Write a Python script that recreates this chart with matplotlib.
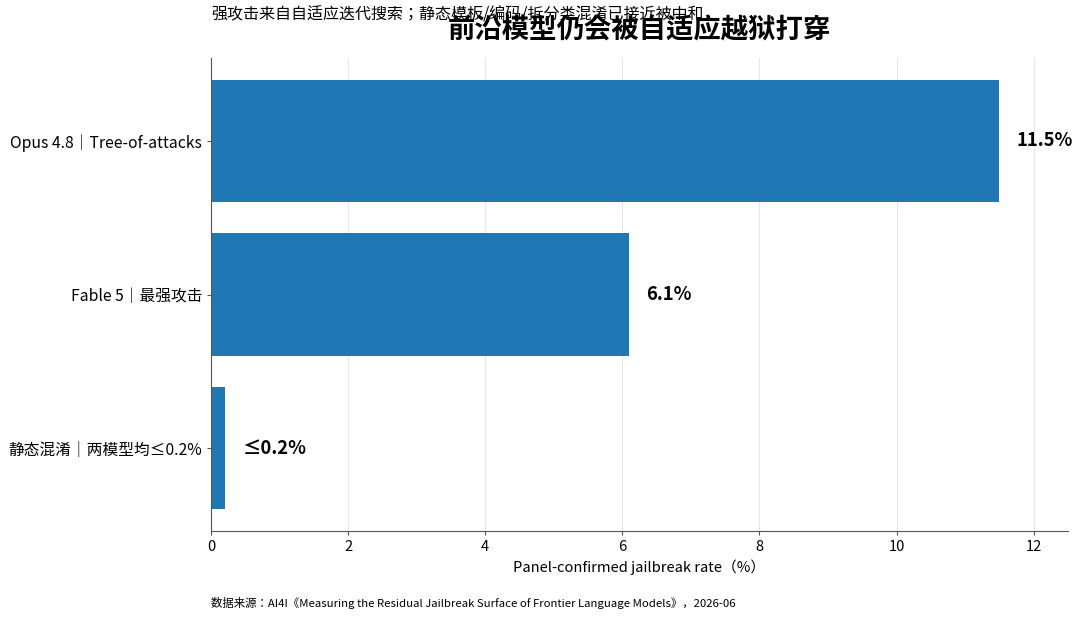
import matplotlib
matplotlib.use("Agg")
import matplotlib.pyplot as plt

plt.rcParams["font.family"] = ["Noto Sans CJK JP", "DejaVu Sans"]

# ---- data ----
categories = ["Opus 4.8｜Tree-of-attacks", "Fable 5｜最强攻击", "静态混淆｜两模型均≤0.2%"]
rates = [11.5, 6.1, 0.2]
value_labels = ["11.5%", "6.1%", "≤0.2%"]

title = "前沿模型仍会被自适应越狱打穿"
subtitle = "强攻击来自自适应迭代搜索；静态模板/编码/拆分类混淆已接近被中和"
xlabel = "Panel-confirmed jailbreak rate（%）"
source = "数据来源：AI4I《Measuring the Residual Jailbreak Surface of Frontier Language Models》，2026-06"

fig = plt.figure(figsize=(10.8, 6.18), dpi=100)
ax = fig.add_axes([0.1954, 0.1408, 0.7935, 0.7653])

ypos = list(range(len(categories)))
ax.barh(ypos, rates, height=0.8, color="#1f77b4", zorder=2)
ax.set_yticks(ypos)
ax.set_yticklabels(categories, fontsize=11.3)
ax.invert_yaxis()

# value labels to the right of each bar
for y, v, lab in zip(ypos, rates, value_labels):
    ax.text(v + 0.25, y, lab, va="center", ha="left", fontsize=13.3, fontweight="bold")

ax.set_xlim(0, 12.5)
ax.set_xlabel(xlabel, fontsize=10.6)
ax.tick_params(axis="x", labelsize=10.6)
ax.tick_params(axis="both", length=2.8, color="#555555")
ax.grid(axis="x", color="#e6e6e6", linewidth=0.8, zorder=0)
ax.set_axisbelow(True)
for side in ("top", "right"):
    ax.spines[side].set_visible(False)
for side in ("left", "bottom"):
    ax.spines[side].set_color("#555555")

ax.set_title(title, fontsize=19.7, fontweight="bold", pad=14)
fig.text(0.1954, 1 - 15 / 618, subtitle, fontsize=11.5, ha="left", va="center")
fig.text(0.1954, 1 - 603 / 618, source, fontsize=8.2, ha="left", va="center")

fig.savefig("out.png", dpi=100)
